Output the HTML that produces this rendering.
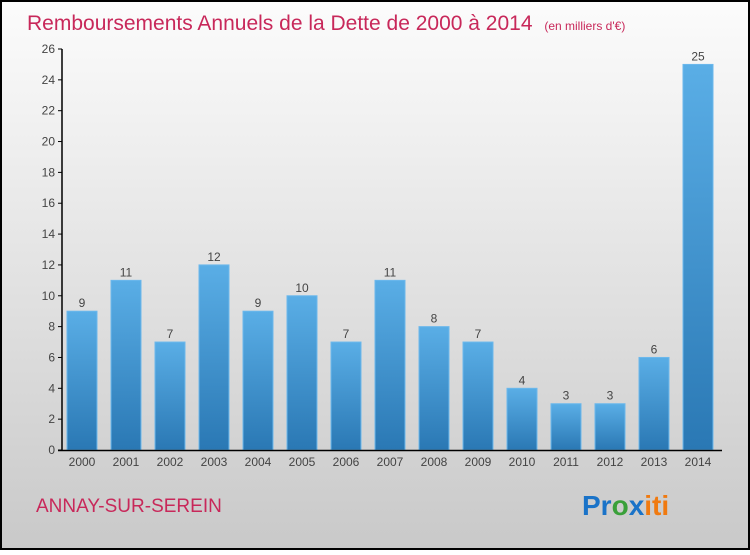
<!DOCTYPE html>
<html><head><meta charset="utf-8"><style>
body{margin:0;width:750px;height:550px;overflow:hidden;font-family:"Liberation Sans",sans-serif}
</style></head><body>
<svg width="750" height="550" xmlns="http://www.w3.org/2000/svg">
<defs>
<linearGradient id="bg" x1="0" y1="0" x2="0" y2="1"><stop offset="0" stop-color="#fcfcfc"/><stop offset="1" stop-color="#c9c9c9"/></linearGradient>
<linearGradient id="bar" x1="0" y1="0" x2="0" y2="1"><stop offset="0" stop-color="#5aaee6"/><stop offset="1" stop-color="#2a78b4"/></linearGradient>
</defs>
<rect x="1" y="1" width="748" height="548" fill="url(#bg)" stroke="#000" stroke-width="2"/>
<text x="27" y="30" font-size="21" fill="#c8285a">Remboursements Annuels de la Dette de 2000 à 2014 <tspan font-size="12" dx="6">(en milliers d'€)</tspan></text>
<g id="plot"></g>
<text x="36" y="512" font-size="19" fill="#c8285a">ANNAY-SUR-SEREIN</text>
<text x="582" y="515" font-size="28" font-weight="bold"><tspan fill="#1a73c8">Pr</tspan><tspan fill="#3aa03a">o</tspan><tspan fill="#1a73c8">x</tspan><tspan fill="#f07a10">iti</tspan></text>
</svg>
<script>
const categories=["2000","2001","2002","2003","2004","2005","2006","2007","2008","2009","2010","2011","2012","2013","2014"];
const values=[9,11,7,12,9,10,7,11,8,7,4,3,3,6,25];
const yTicks=[0,2,4,6,8,10,12,14,16,18,20,22,24,26];
const NS="http://www.w3.org/2000/svg";
const g=document.getElementById('plot');
const y0=450,yTop=49,yMax=26;
const y=v=>y0-(v/yMax)*(y0-yTop);
const x=i=>67+i*44;
function mk(t,a){const e=document.createElementNS(NS,t);for(const k in a)e.setAttribute(k,a[k]);g.appendChild(e);return e;}
yTicks.forEach(t=>{
  const l=mk('line',{x1:58,x2:62,y1:y(t),y2:y(t),stroke:'#000'});
  
  
  const tx=mk('text',{x:55,y:y(t)+4,'font-size':12,fill:'#444','text-anchor':'end'});
  tx.textContent=t;
  
  
});
values.forEach((v,i)=>{
  const r=mk('rect',{x:x(i),y:y(v),width:30,height:y0-y(v),fill:'url(#bar)',stroke:'#6cb8ec','stroke-width':1});
  
  
  const lb=mk('text',{x:x(i)+15,y:y(v)-4,'font-size':12,fill:'#444','text-anchor':'middle'});
  lb.textContent=v;
  
  
  const cl=mk('text',{x:x(i)+15,y:466,'font-size':12,fill:'#444','text-anchor':'middle'});
  cl.textContent=categories[i];
  
  
});
const ya=mk('line',{x1:62,x2:62,y1:49,y2:451,stroke:'#000','stroke-width':1.5});


const xa=mk('line',{x1:58,x2:722,y1:450.5,y2:450.5,stroke:'#000','stroke-width':1.5});


</script>
</body></html>
